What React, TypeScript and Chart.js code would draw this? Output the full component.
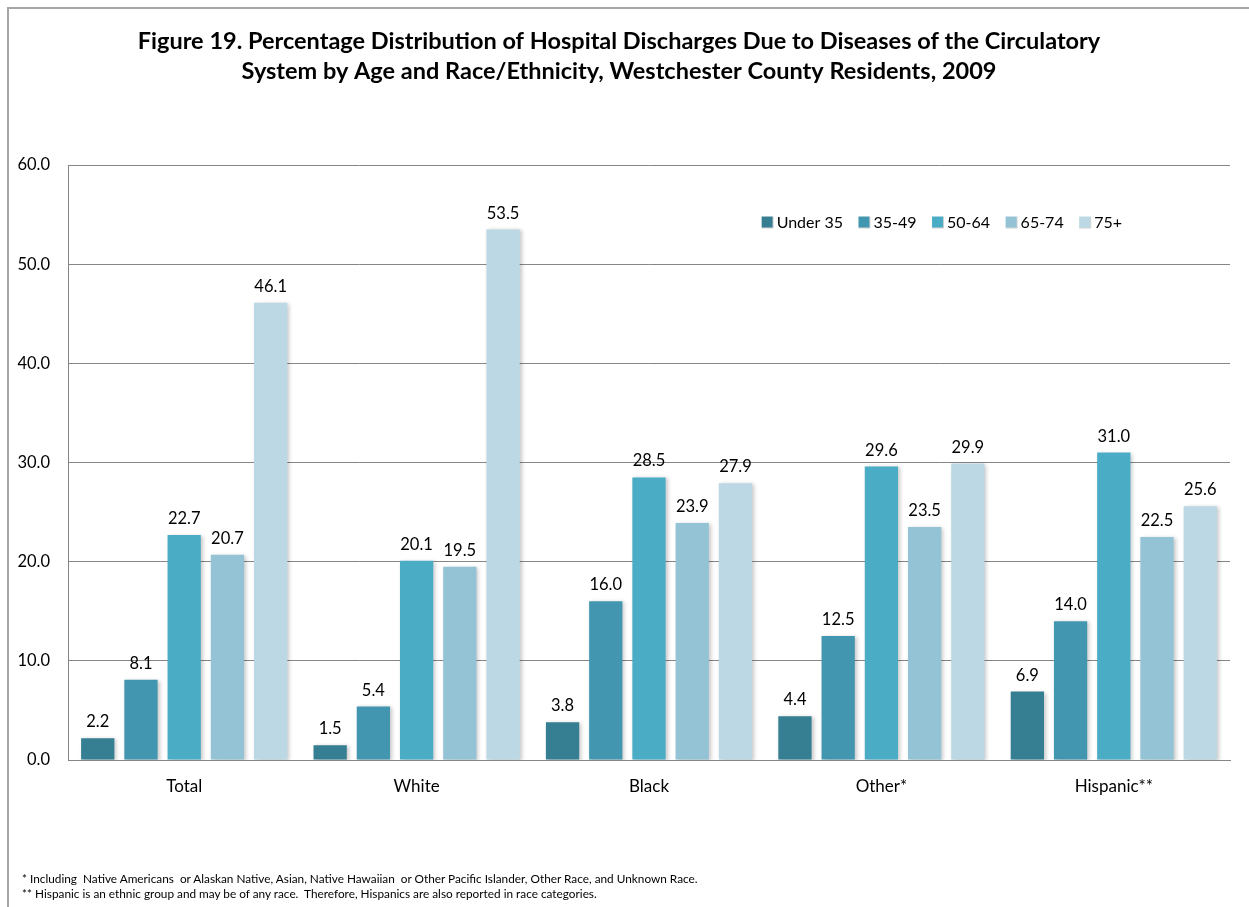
import React, { useEffect, useRef } from "react";
import { Chart, registerables } from "chart.js";

Chart.register(...registerables);

const categories = ["Total", "White", "Black", "Other*", "Hispanic**"];
const seriesNames = ["Under 35", "35-49", "50-64", "65-74", "75+"];
const under35 = [2.2, 1.5, 3.8, 4.4, 6.9];
const age35to49 = [8.1, 5.4, 16.0, 12.5, 14.0];
const age50to64 = [22.7, 20.1, 28.5, 29.6, 31.0];
const age65to74 = [20.7, 19.5, 23.9, 23.5, 22.5];
const age75plus = [46.1, 53.5, 27.9, 29.9, 25.6];
const seriesColors = ["#367E92", "#4396AF", "#4BACC6", "#93C3D4", "#BCD8E4"];
const yTicks = [0, 10, 20, 30, 40, 50, 60];

const titleLines = [
  "Figure 19. Percentage Distribution of Hospital Discharges Due to Diseases of the Circulatory",
  "System by Age and Race/Ethnicity, Westchester County Residents, 2009",
];
const footnotes = [
  "* Including  Native Americans  or Alaskan Native, Asian, Native Hawaiian  or Other Pacific Islander, Other Race, and Unknown Race.",
  "** Hispanic is an ethnic group and may be of any race.  Therefore, Hispanics are also reported in race categories.",
];

const FONT = "Lato, 'Open Sans', sans-serif";

const shadowPlugin = {
  id: "barShadow",
  beforeDatasetsDraw(chart: any) {
    const ctx = chart.ctx;
    ctx.save();
    ctx.shadowColor = "rgba(0,0,0,0.22)";
    ctx.shadowBlur = 4;
    ctx.shadowOffsetX = 2;
    ctx.shadowOffsetY = 1;
  },
  afterDatasetsDraw(chart: any) {
    chart.ctx.restore();
  },
};

const labelPlugin = {
  id: "valueLabels",
  afterDraw(chart: any) {
    const ctx = chart.ctx;
    ctx.save();
    ctx.font = `16.5px ${FONT}`;
    ctx.fillStyle = "#000";
    ctx.textAlign = "center";
    ctx.textBaseline = "bottom";
    chart.data.datasets.forEach((ds: any, i: number) => {
      const meta = chart.getDatasetMeta(i);
      meta.data.forEach((bar: any, j: number) => {
        ctx.fillText(Number(ds.data[j]).toFixed(1), bar.x, bar.y - 8);
      });
    });
    ctx.restore();
  },
};

const legendPlugin = {
  id: "customLegend",
  afterDraw(chart: any) {
    const ctx = chart.ctx;
    const area = chart.chartArea;
    ctx.save();
    ctx.font = `16px ${FONT}`;
    ctx.textBaseline = "middle";
    ctx.textAlign = "left";
    const box = 11;
    const gapText = 4;
    const gapItem = 15.5;
    const widths = seriesNames.map((n) => ctx.measureText(n).width);
    const total = widths.reduce((a, w) => a + box + gapText + w, 0) + gapItem * (seriesNames.length - 1);
    let x = area.right - 108 - total;
    const y = area.top + 57;
    seriesNames.forEach((n, i) => {
      ctx.fillStyle = seriesColors[i];
      ctx.fillRect(x, y - box / 2, box, box);
      ctx.strokeStyle = "rgba(0,0,0,0.18)";
      ctx.lineWidth = 1;
      ctx.beginPath();
      ctx.moveTo(x + box + 0.5, y - box / 2);
      ctx.lineTo(x + box + 0.5, y + box / 2 + 0.5);
      ctx.lineTo(x, y + box / 2 + 0.5);
      ctx.stroke();
      ctx.fillStyle = "#000";
      ctx.fillText(n, x + box + gapText, y + 1);
      x += box + gapText + widths[i] + gapItem;
    });
    ctx.restore();
  },
};

export default function App() {
  const canvasRef = useRef<HTMLCanvasElement>(null);

  useEffect(() => {
    if (!canvasRef.current) return;
    const allSeries = [under35, age35to49, age50to64, age65to74, age75plus];
    const chart = new Chart(canvasRef.current, {
      type: "bar",
      data: {
        labels: categories,
        datasets: allSeries.map((d, i) => ({
          label: seriesNames[i],
          data: d,
          backgroundColor: seriesColors[i],
          borderWidth: 0,
          categoryPercentage: 0.93,
          barPercentage: 0.77,
        })),
      },
      options: {
        animation: false,
        responsive: true,
        maintainAspectRatio: false,
        layout: { padding: { left: 8, right: 19, top: 0, bottom: 0 } },
        plugins: {
          legend: { display: false },
          tooltip: { enabled: false },
          title: {
            display: true,
            text: titleLines,
            color: "#000",
            font: { family: FONT, size: 23.5, weight: "bold", lineHeight: 1.277 },
            padding: { top: 26, bottom: 79 },
          },
        },
        scales: {
          x: {
            grid: { display: false },
            border: { display: true, color: "#868686", width: 1 },
            ticks: { color: "#000", font: { family: FONT, size: 17 }, padding: 8 },
            afterFit: (scale: any) => {
              scale.height = 147;
            },
          },
          y: {
            min: 0,
            max: 60,
            afterBuildTicks: (scale: any) => {
              scale.ticks = yTicks.map((v) => ({ value: v }));
            },
            grid: { color: "#868686", drawTicks: false, lineWidth: 1 },
            border: { display: true, color: "#868686", width: 1 },
            ticks: {
              color: "#000",
              font: { family: FONT, size: 16.5 },
              padding: 18,
              callback: (v: any) => Number(v).toFixed(1),
            },
            afterFit: (scale: any) => {
              scale.width = 60;
            },
          },
        },
      },
      plugins: [shadowPlugin, labelPlugin, legendPlugin],
    });
    return () => chart.destroy();
  }, []);

  return (
    <div style={{ position: "absolute", left: 0, top: 0, width: 1249, height: 907, background: "#fff", overflow: "hidden" }}>
      <div
        style={{
          position: "absolute",
          left: 7,
          top: 7,
          width: 1400,
          height: 1100,
          borderLeft: "2px solid #a6a6a6",
          borderTop: "2px solid #a6a6a6",
        }}
      />
      <div style={{ position: "absolute", left: 0, top: 0, width: 1249, height: 907 }}>
        <canvas ref={canvasRef} />
      </div>
      <div
        style={{
          position: "absolute",
          left: 22,
          top: 871,
          fontFamily: FONT,
          fontSize: 11.8,
          lineHeight: "15px",
          color: "#000",
          whiteSpace: "pre",
        }}
      >
        {footnotes.map((f, i) => (
          <div key={i}>{f}</div>
        ))}
      </div>
    </div>
  );
}
